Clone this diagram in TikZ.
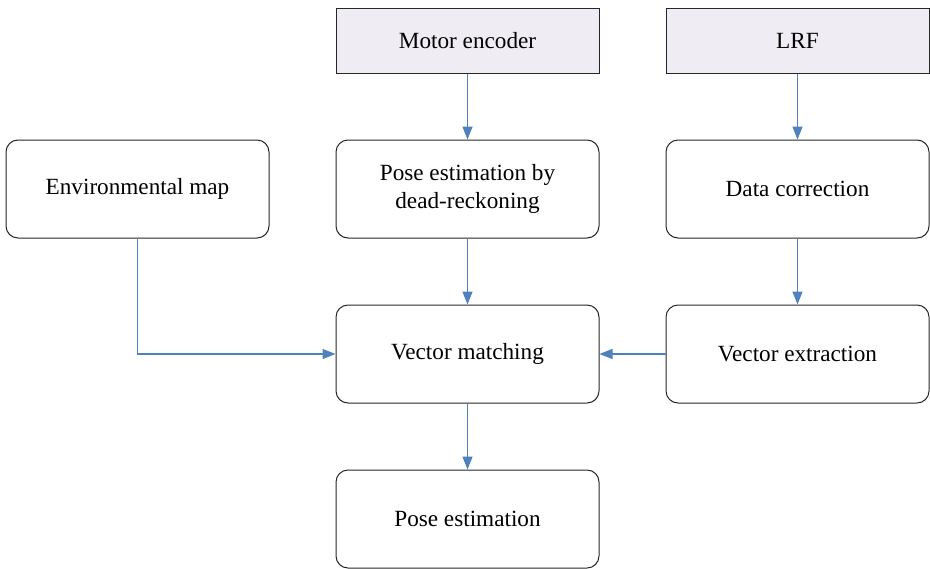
\documentclass[tikz,border=0pt]{standalone}
\usepackage{fontspec}
\setmainfont{Liberation Serif}
\usetikzlibrary{positioning,arrows.meta}
\definecolor{linkblue}{RGB}{79,129,189}
\definecolor{sourcegray}{RGB}{239,237,243}
\begin{document}
\begin{tikzpicture}[x=0.5pt, y=-0.5pt, node distance=33pt and 33pt, align=center, font=\fontsize{11.6}{14}\selectfont]

    % Styles
    \tikzstyle{source} = [rectangle, draw=black!85, line width=0.5pt, fill=sourcegray, minimum width=131.5pt, minimum height=32.5pt, text centered]
    \tikzstyle{process} = [rectangle, rounded corners=6pt, draw=black!85, line width=0.5pt, minimum width=131.5pt, minimum height=49pt, text centered]
    \tikzstyle{arrow} = [-{Triangle[width=5pt,length=6.5pt]}, draw=linkblue, line width=0.7pt]

    \useasboundingbox (0,0) rectangle (930,568);

    % Sensors
    \node[source] (motor_encoder) at (467.5,40.5) {Motor encoder};
    \node[source] (lrf) [right=of motor_encoder] {LRF};

    % Estimation and Data Correction
    \node[process] (dead_reckoning) [below=of motor_encoder] {Pose estimation by\\dead-reckoning};
    \node[process] (env_map) [left=of dead_reckoning] {Environmental map};
    \node[process] (data_correction) [below=of lrf] {Data correction};

    % Matching
    \node[process] (vector_matching) [below=of dead_reckoning] {Vector matching};
    \node[process] (vector_extraction) [below=of data_correction] {Vector extraction};

    % Result
    \node[process] (pose_estimation) [below=of vector_matching] {Pose estimation};

    % Arrows
    \draw[arrow] (motor_encoder) -- (dead_reckoning);
    \draw[arrow] (lrf) -- (data_correction);

    \draw[arrow] (dead_reckoning) -- (vector_matching);
    \draw[arrow] (data_correction) -- (vector_extraction);

    \draw[arrow] (env_map.south) |- (vector_matching);
    \draw[arrow] (vector_extraction) -- (vector_matching);

    \draw[arrow] (vector_matching) -- (pose_estimation);

\end{tikzpicture}
\end{document}
